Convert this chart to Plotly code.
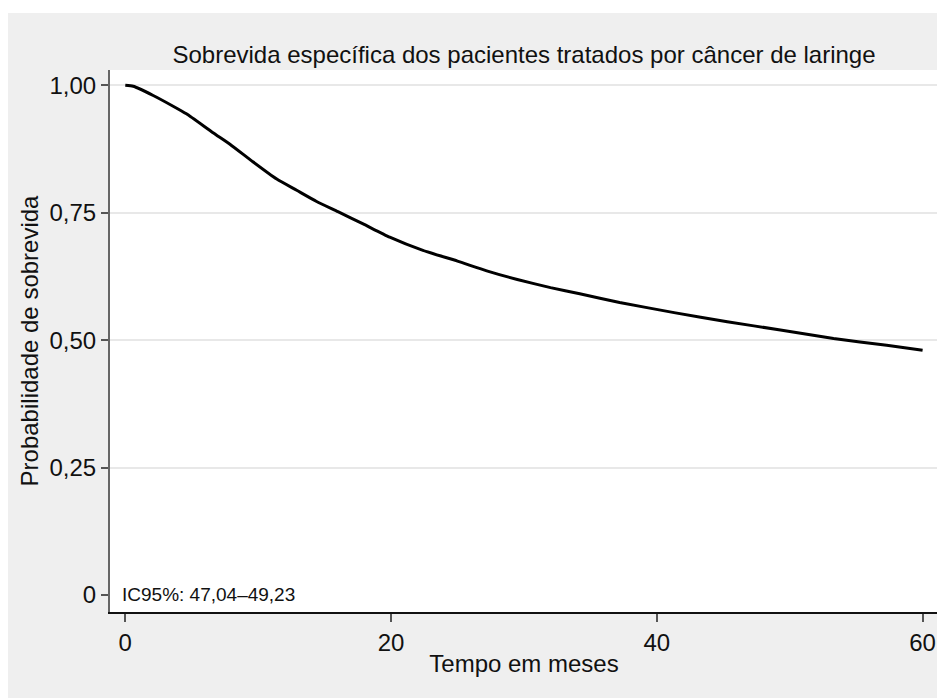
import plotly.graph_objects as go

# Data (Kaplan-Meier survival curve)
tempo_meses = [0, 0.6, 2.1, 3.6, 4.6, 6.6, 7.9, 9.6, 11.4, 12.9, 14.4, 16.0, 17.9,
               19.9, 22.4, 25.0, 27.2, 29.5, 32.0, 34.2, 37.2, 41.3, 45.3, 49.3,
               53.3, 57.3, 60.0]
sobrevida = [1.000, 0.998, 0.980, 0.959, 0.944, 0.907, 0.884, 0.850, 0.816, 0.794,
             0.772, 0.752, 0.728, 0.702, 0.676, 0.655, 0.636, 0.619, 0.603, 0.591,
             0.574, 0.554, 0.536, 0.520, 0.503, 0.490, 0.480]

y_ticks = [0, 0.25, 0.5, 0.75, 1.0]
y_ticklabels = ["0", "0,25", "0,50", "0,75", "1,00"]
grid_ticks = [0.25, 0.5, 0.75, 1.0]
x_ticks = [0, 20, 40, 60]
x_ticklabels = ["0", "20", "40", "60"]

titulo = "Sobrevida específica dos pacientes tratados por câncer de laringe"
x_titulo = "Tempo em meses"
y_titulo = "Probabilidade de sobrevida"
nota = "IC95%: 47,04–49,23"

FONT = "Liberation Sans, Arial, sans-serif"
GRAY_BG = "#EFEFEF"
TXT = "#111111"

# page body has an 8px margin; figure is sized so it ends at the window edge
W, H = 937, 690
ML, MR, MT, MB = 102, 7, 62, 86
pw = W - ML - MR
ph = H - MT - MB

def px_to_paper_x(px):
    return (px - ML) / pw

def px_to_paper_y(py):
    return (H - MB - py) / ph

fig = go.Figure()
fig.add_trace(go.Scatter(
    x=tempo_meses, y=sobrevida, mode="lines",
    line=dict(color="black", width=3, shape="spline", smoothing=0.5),
    hoverinfo="skip", showlegend=False,
))
# invisible trace on overlay axis to carry gridlines
fig.add_trace(go.Scatter(x=[0], y=[0], yaxis="y2", mode="markers",
                         marker=dict(opacity=0), showlegend=False, hoverinfo="skip"))

yrange = [-0.0334, 1.030]
fig.update_layout(
    width=W, height=H,
    margin=dict(l=ML, r=MR, t=MT, b=MB),
    paper_bgcolor="white",
    plot_bgcolor="white",
    font=dict(family=FONT, size=24, color=TXT),
    title=dict(text=titulo, x=0.5, xref="paper", xanchor="center",
               y=1 - 47 / H, yref="container", yanchor="middle",
               font=dict(size=24, color=TXT)),
    xaxis=dict(
        range=[-1.15, 61.16], tickvals=x_ticks, ticktext=x_ticklabels,
        ticks="outside", ticklen=8, tickwidth=1.5, tickcolor="#555555",
        showline=True, linecolor=TXT, linewidth=2,
        showgrid=False, zeroline=False,
        tickfont=dict(size=24, color=TXT),
        title=dict(text=x_titulo, standoff=0, font=dict(size=24, color=TXT)),
    ),
    yaxis=dict(
        range=yrange, tickvals=y_ticks, ticktext=y_ticklabels,
        ticks="outside", ticklen=7, tickwidth=1.5, tickcolor="#555555",
        showline=True, linecolor="#666666", linewidth=2,
        showgrid=False, zeroline=False,
        tickfont=dict(size=24, color=TXT),
        title=dict(text=y_titulo, standoff=4, font=dict(size=24, color=TXT)),
    ),
    yaxis2=dict(
        range=yrange, overlaying="y", tickvals=grid_ticks, showticklabels=False,
        ticks="", showgrid=True, gridcolor="#E8E8E8", gridwidth=2,
        zeroline=False, showline=False,
    ),
    shapes=[
        dict(type="rect", xref="paper", yref="paper", layer="below",
             x0=px_to_paper_x(0), x1=px_to_paper_x(935),
             y0=px_to_paper_y(690), y1=px_to_paper_y(5),
             fillcolor=GRAY_BG, line=dict(width=0)),
        dict(type="rect", xref="paper", yref="paper", layer="below",
             x0=0, x1=1, y0=0, y1=1,
             fillcolor="white", line=dict(width=0)),
    ],
    annotations=[
        dict(text=nota, xref="paper", yref="y", x=px_to_paper_x(112), y=0,
             xanchor="left", yanchor="middle", showarrow=False,
             font=dict(size=19, color=TXT)),
    ],
)

fig.write_html("out.html")
